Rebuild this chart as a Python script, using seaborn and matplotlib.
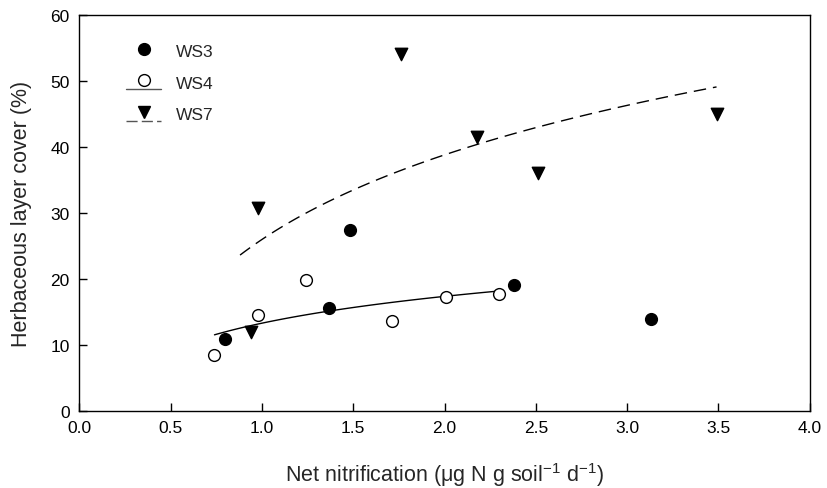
import matplotlib
matplotlib.use("Agg")
import matplotlib.pyplot as plt
from matplotlib.legend_handler import HandlerLine2D
from matplotlib.lines import Line2D
import numpy as np
import pandas as pd
import seaborn as sns

sns.set_theme(style="ticks")
plt.rcParams["font.family"] = ["Liberation Sans", "DejaVu Sans"]

# data
ws3_x = [0.80, 1.37, 1.48, 2.38, 3.13]
ws3_y = [10.9, 15.6, 27.4, 19.1, 14.0]

ws4_x = [0.74, 0.98, 1.24, 1.71, 2.01, 2.30]
ws4_y = [8.5, 14.5, 19.8, 13.6, 17.3, 17.7]

ws7_x = [0.94, 0.98, 1.76, 2.18, 2.51, 3.49]
ws7_y = [12.0, 30.8, 54.0, 41.5, 36.0, 45.0]

# x range over which each log fit is drawn
ws4_fit_range = (0.74, 2.30)
ws7_fit_range = (0.88, 3.49)

x_ticks = [0.0, 0.5, 1.0, 1.5, 2.0, 2.5, 3.0, 3.5, 4.0]
y_ticks = [0, 10, 20, 30, 40, 50, 60]


def log_fit(x, y, x_range):
    b, a = np.polyfit(np.log(x), y, 1)
    xs = np.linspace(x_range[0], x_range[1], 100)
    return pd.DataFrame({"x": xs, "y": a + b * np.log(xs)})


class HandlerLineBelow(HandlerLine2D):
    """SigmaPlot-style legend entry: the line sits under the symbol."""

    def create_artists(self, legend, orig_handle, xdescent, ydescent,
                       width, height, fontsize, trans):
        xdata, _ = self.get_xdata(legend, xdescent, ydescent, width, height, fontsize)
        yc = (height - ydescent) / 2
        line = Line2D([xdata[0], xdata[-1]], [yc - 0.62 * height] * 2)
        line.update_from(orig_handle)
        line.set_marker("None")
        mk = Line2D([(xdata[0] + xdata[-1]) / 2], [yc + 0.1 * height])
        mk.update_from(orig_handle)
        mk.set_linestyle("None")
        line.set_transform(trans)
        mk.set_transform(trans)
        return [line, mk]


fig, ax = plt.subplots(figsize=(8.27, 4.89), dpi=100)
fig.subplots_adjust(left=0.096, right=0.979, top=0.968, bottom=0.157)

fit4 = log_fit(ws4_x, ws4_y, ws4_fit_range)
fit7 = log_fit(ws7_x, ws7_y, ws7_fit_range)
sns.lineplot(data=fit4, x="x", y="y", color="black", lw=1.0, ax=ax)
sns.lineplot(data=fit7, x="x", y="y", color="black", lw=1.0, ax=ax,
             linestyle=(0, (9, 5)))

sns.scatterplot(x=ws3_x, y=ws3_y, marker="o", s=72, color="black",
                edgecolor="black", linewidth=1, ax=ax, zorder=3)
sns.scatterplot(x=ws4_x, y=ws4_y, marker="o", s=72, facecolor="white",
                edgecolor="black", linewidth=1, ax=ax, zorder=3)
sns.scatterplot(x=ws7_x, y=ws7_y, marker="v", s=80, color="black",
                edgecolor="black", linewidth=1, ax=ax, zorder=3)

ax.set_xlim(0, 4)
ax.set_ylim(0, 60)
ax.set_xticks(x_ticks)
ax.set_xticklabels([f"{t:.1f}" for t in x_ticks])
ax.set_yticks(y_ticks)
ax.tick_params(direction="in", length=6, width=1, labelsize=12.5, colors="black")
ax.tick_params(axis="x", pad=6.5)
ax.tick_params(axis="y", pad=7)
for s in ax.spines.values():
    s.set_color("black")
    s.set_linewidth(1)

ax.set_xlabel(r"Net nitrification ($\mathregular{\mu}$g N g soil$^{\mathregular{-1}}$ d$^{\mathregular{-1}}$)",
              fontsize=15.5, labelpad=18)
ax.set_ylabel("Herbaceous layer cover (%)", fontsize=15.5, labelpad=13)

handles = [
    Line2D([], [], marker="o", color="none", markerfacecolor="black",
           markeredgecolor="black", markersize=8.5),
    Line2D([], [], marker="o", color="#555555", lw=1, markerfacecolor="white",
           markeredgecolor="black", markersize=8.5),
    Line2D([], [], marker="v", color="#555555", lw=1, linestyle=(0, (8, 3)),
           markerfacecolor="black", markeredgecolor="black", markersize=9),
]
ax.legend(handles, ["WS3", "WS4", "WS7"], loc="upper left", frameon=False,
          bbox_to_anchor=(0.043, 0.966), fontsize=12.5, handlelength=2.0,
          labelspacing=0.95, handletextpad=0.85,
          handler_map={Line2D: HandlerLineBelow()})

fig.savefig("out.png", dpi=100)
